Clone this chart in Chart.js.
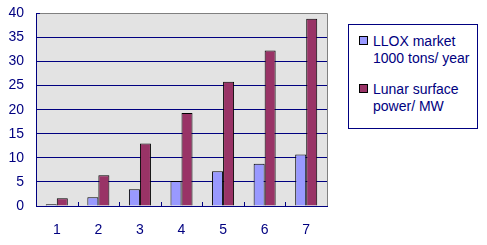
<!DOCTYPE html>
<html>
<head>
<meta charset="utf-8">
<script src="https://cdn.jsdelivr.net/npm/chart.js@4/dist/chart.umd.min.js"></script>
<style>
  html, body { margin: 0; padding: 0; background: #fff; overflow: hidden; }
  #wrap { position: relative; width: 487px; height: 245px; overflow: hidden; }
  #chart { position: absolute; left: 0; top: -7px; }
  #legend {
    position: absolute; left: 348px; top: 24px; width: 128px; height: 95px;
    border: 1px solid #000080; background: #fff;
    font-family: "Liberation Sans", Arial, sans-serif; font-size: 14px; color: #000080;
    padding-top: 8px; box-sizing: content-box;
  }
  #legend .item { display: flex; align-items: flex-start; margin-left: 10px; margin-bottom: 14px; line-height: 17px; }
  #legend .sw { width: 7px; height: 7px; border: 1px solid #000; margin-top: 3px; margin-right: 5px; flex: none; }
</style>
</head>
<body>
<div id="wrap">
  <canvas id="chart" width="487" height="252"></canvas>
  <div id="legend"></div>
</div>
<script>
const categories = ["1", "2", "3", "4", "5", "6", "7"];
const lloxMarket = [0.35, 1.8, 3.5, 5.2, 7.2, 8.8, 10.7];
const lunarPower = [1.6, 6.4, 13.0, 19.3, 25.8, 32.3, 38.9];
const seriesNames = [["LLOX market", "1000 tons/ year"], ["Lunar surface", "power/ MW"]];
const seriesColors = ["#9999ff", "#993366"];

const navy = "#000080";
const font = { family: "'Liberation Sans', Arial, sans-serif", size: 14 };

// plot area fill, grey frame and the small inner ticks on the category axis
const plotArea = {
  id: "plotArea",
  beforeDraw(c) {
    const a = c.chartArea;
    c.ctx.save();
    c.ctx.fillStyle = "#e3e3e3";
    c.ctx.fillRect(a.left, a.top, a.right - a.left, a.bottom - a.top);
    c.ctx.restore();
  },
  beforeDatasetsDraw(c) {
    const a = c.chartArea, ctx = c.ctx, x = c.scales.x;
    ctx.save();
    ctx.strokeStyle = "#808080";
    ctx.lineWidth = 1;
    ctx.beginPath();
    ctx.moveTo(a.left + 4, Math.round(a.top) + 0.5);
    ctx.lineTo(Math.round(a.right) + 0.5, Math.round(a.top) + 0.5);
    ctx.lineTo(Math.round(a.right) + 0.5, Math.round(a.bottom));
    ctx.stroke();
    ctx.strokeStyle = navy;
    ctx.beginPath();
    const half = (x.getPixelForValue(1) - x.getPixelForValue(0)) / 2;
    for (let i = 1; i < categories.length; i++) {
      const px = Math.round(x.getPixelForValue(i) - half) + 0.5;
      ctx.moveTo(px, a.bottom);
      ctx.lineTo(px, a.bottom - 4);
    }
    ctx.stroke();
    ctx.restore();
  }
};

new Chart(document.getElementById("chart"), {
  type: "bar",
  data: {
    labels: categories,
    datasets: [
      { label: seriesNames[0].join(" "), data: lloxMarket, backgroundColor: seriesColors[0], borderColor: "#000", borderWidth: 1 },
      { label: seriesNames[1].join(" "), data: lunarPower, backgroundColor: seriesColors[1], borderColor: "#000", borderWidth: 1 }
    ]
  },
  options: {
    responsive: false,
    animation: false,
    layout: { padding: { top: 6, right: 160, left: 0, bottom: 0 } },
    datasets: { bar: { categoryPercentage: 0.53, barPercentage: 1.0 } },
    plugins: { legend: { display: false }, tooltip: { enabled: false } },
    scales: {
      x: {
        grid: { display: false },
        border: { display: true, color: navy },
        ticks: { color: navy, font: font, padding: 8 },
        afterFit(s) { s.height = 39; }
      },
      y: {
        min: 0, max: 40,
        ticks: { stepSize: 5, color: navy, font: font, padding: 12 },
        grid: { color: navy, drawTicks: false },
        border: { color: navy },
        afterFit(s) { s.width = 36; }
      }
    }
  },
  plugins: [plotArea]
});

// legend built from the series names
const legend = document.getElementById("legend");
seriesNames.forEach((lines, i) => {
  const item = document.createElement("div");
  item.className = "item";
  const sw = document.createElement("div");
  sw.className = "sw";
  sw.style.background = seriesColors[i];
  const txt = document.createElement("div");
  txt.innerHTML = lines.join("<br>");
  item.appendChild(sw);
  item.appendChild(txt);
  legend.appendChild(item);
});
</script>
</body>
</html>
